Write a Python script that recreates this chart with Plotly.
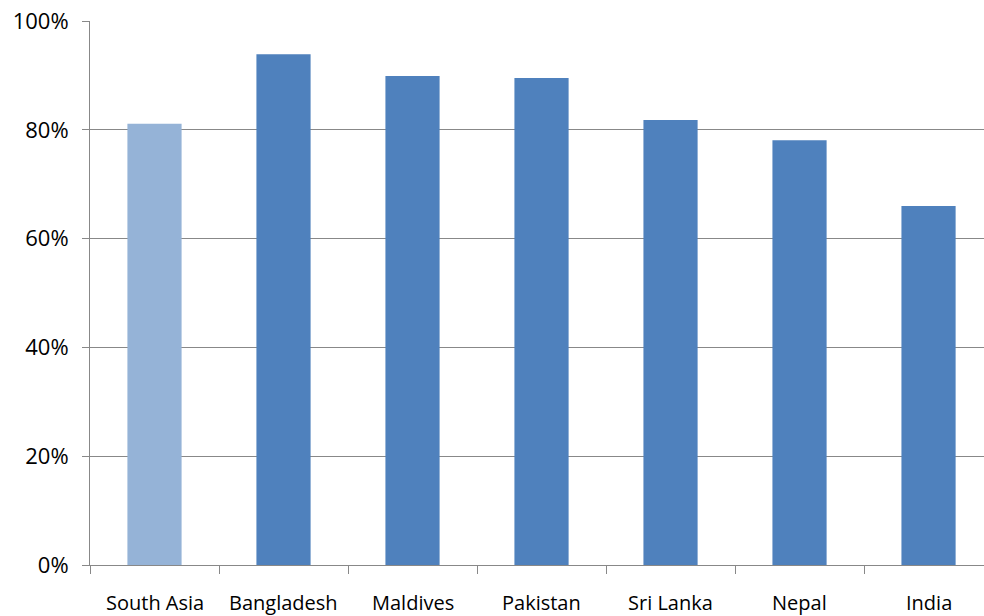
import plotly.graph_objects as go

categories = ["South Asia", "Bangladesh", "Maldives", "Pakistan", "Sri Lanka", "Nepal", "India"]
values = [81.1, 93.9, 89.9, 89.5, 81.8, 78.1, 66.0]
colors = ["#95B3D7", "#4F81BD", "#4F81BD", "#4F81BD", "#4F81BD", "#4F81BD", "#4F81BD"]
y_ticks = [0, 20, 40, 60, 80, 100]
y_labels = ["0%", "20%", "40%", "60%", "80%", "100%"]

fig = go.Figure(go.Bar(x=categories, y=values, marker=dict(color=colors, line=dict(width=0)), width=0.42))

fig.update_layout(
    width=984, height=616,
    margin=dict(l=90, r=0, t=21, b=51, autoexpand=False),
    paper_bgcolor="white", plot_bgcolor="white",
    font=dict(family="Open Sans, Liberation Sans, sans-serif", size=21, color="black"),
    showlegend=False,
)
fig.update_xaxes(
    range=[-0.5, 6.43], showgrid=False,
    showline=True, linecolor="#888888", linewidth=1,
    ticks="outside", ticklen=8, tickcolor="#888888",
    tickmode="array", tickvals=[i - 0.5 for i in range(8)], ticktext=[""] * 8,
)
for c in categories:
    fig.add_annotation(x=c, y=0, xref="x", yref="y", text=c, showarrow=False,
                       yanchor="top", yshift=-22, font=dict(size=20))
fig.update_yaxes(
    range=[0, 100], tickvals=y_ticks, ticktext=y_labels,
    showgrid=True, gridcolor="#888888", gridwidth=1,
    showline=True, linecolor="#888888", linewidth=1,
    ticks="outside", ticklen=7, tickcolor="#888888",
    ticklabelstandoff=9, zeroline=False, tickfont=dict(size=22),
)
fig.write_html("out.html", config={"displayModeBar": False},
               post_script="document.body.style.margin='0';document.body.style.overflow='hidden';")
